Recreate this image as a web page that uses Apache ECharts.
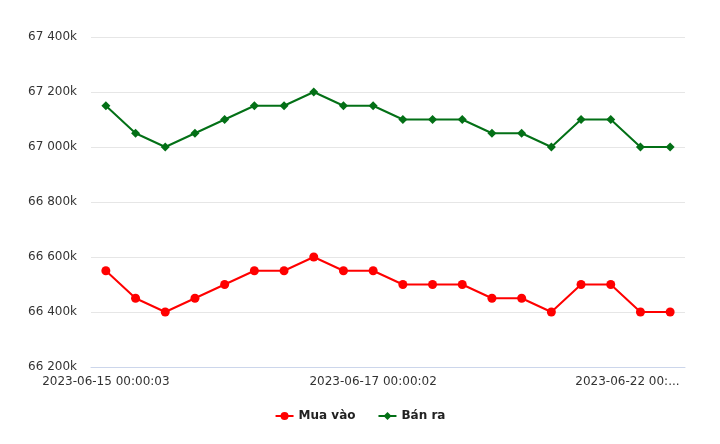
<!DOCTYPE html>
<html>
<head>
<meta charset="utf-8">
<script src="https://cdn.jsdelivr.net/npm/echarts@6/dist/echarts.min.js"></script>
<style>html,body{margin:0;padding:0;background:#fff;}#c{width:720px;height:444px;}</style>
</head>
<body>
<div id="c"></div>
<script>
var categories = [
  '2023-06-15 00:00:03','2023-06-15 08:30:02','2023-06-15 14:00:03','2023-06-16 00:00:02',
  '2023-06-16 08:30:03','2023-06-16 10:30:02','2023-06-16 14:00:03','2023-06-16 15:30:02',
  '2023-06-16 16:30:03','2023-06-17 00:00:02','2023-06-18 00:00:03','2023-06-19 00:00:02',
  '2023-06-19 09:00:03','2023-06-20 00:00:02','2023-06-20 09:00:03','2023-06-21 00:00:02',
  '2023-06-21 09:00:03','2023-06-21 14:00:02','2023-06-22 00:00:03','2023-06-22 09:00:02'
];
var muaVao = [66550,66450,66400,66450,66500,66550,66550,66600,66550,66550,66500,66500,66500,66450,66450,66400,66500,66500,66400,66400];
var banRa  = [67150,67050,67000,67050,67100,67150,67150,67200,67150,67150,67100,67100,67100,67050,67050,67000,67100,67100,67000,67000];
var seriesNames = ['Mua vào','Bán ra'];
var yMin = 66200, yMax = 67400, yStep = 200;

function fmtK(v){
  return String(Math.round(v)).replace(/\B(?=(\d{3})+(?!\d))/g, ' ') + 'k';
}

var xData = categories.map(function(c, i){
  return i === categories.length - 2 ? {value:c, textStyle:{padding:[0,26,0,0]}} : c;
});

var chart = echarts.init(document.getElementById('c'), null, {renderer:'canvas'});
chart.setOption({
  animation:false,
  textStyle:{fontFamily:'DejaVu Sans'},
  grid:{left:91, right:35, top:37, bottom:77},
  legend:{
    bottom:17, left:'center', itemGap:22, itemWidth:18, itemHeight:10,
    textStyle:{fontSize:12, fontWeight:'bold', color:'#222', fontFamily:'DejaVu Sans'},
    data:seriesNames
  },
  xAxis:{
    type:'category', data:xData, boundaryGap:true,
    axisLine:{lineStyle:{color:'#ccd6eb'}},
    axisTick:{show:false},
    axisLabel:{
      color:'#333', fontSize:12, margin:9,
      interval:function(i){ return i % 9 === 0; },
      formatter:function(v, i){ return i === 18 ? v.slice(0,14) + '...' : v; }
    }
  },
  yAxis:{
    type:'value', min:yMin, max:yMax, interval:yStep,
    axisLine:{show:false}, axisTick:{show:false},
    splitLine:{lineStyle:{color:'#e6e6e6'}},
    axisLabel:{color:'#333', fontSize:12, margin:14, formatter:fmtK}
  },
  series:[
    {name:seriesNames[0], type:'line', data:muaVao, symbol:'circle', symbolSize:9,
     lineStyle:{color:'#ff0000', width:2}, itemStyle:{color:'#ff0000'}},
    {name:seriesNames[1], type:'line', data:banRa, symbol:'diamond', symbolSize:9,
     lineStyle:{color:'#037016', width:2}, itemStyle:{color:'#037016'}}
  ]
});
</script>
</body>
</html>
